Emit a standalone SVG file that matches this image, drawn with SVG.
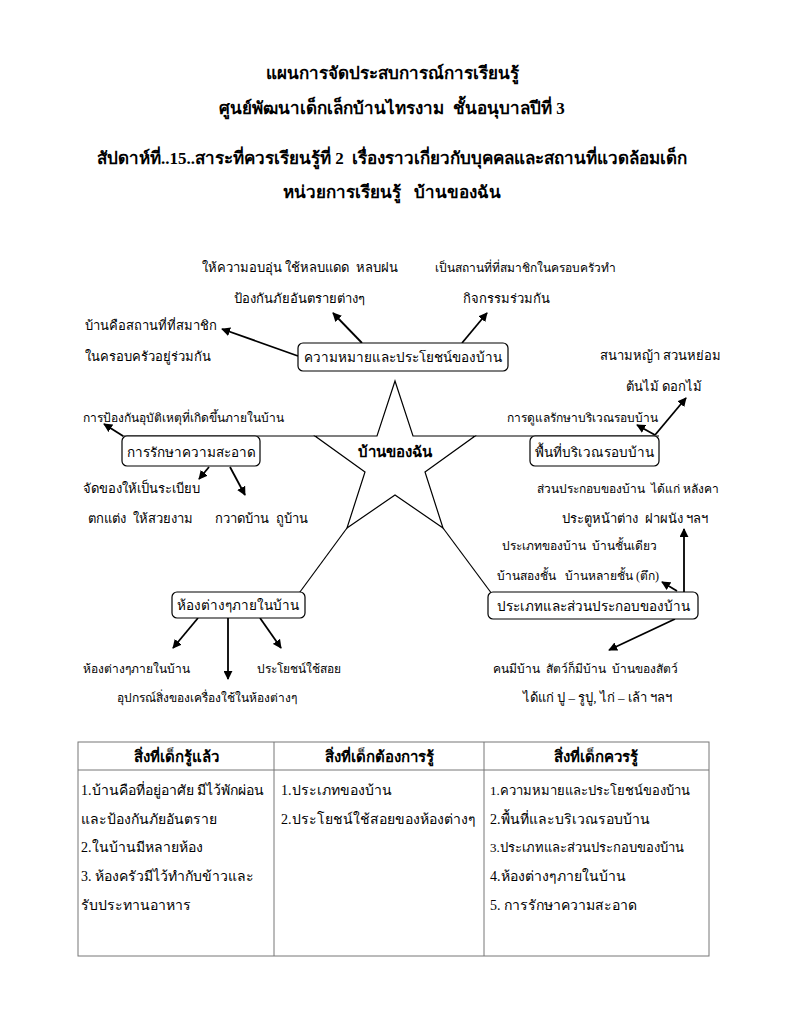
<svg xmlns="http://www.w3.org/2000/svg" width="785" height="1024" viewBox="0 0 785 1024">
<defs>
<marker id="ah" viewBox="0 0 10 10" refX="9" refY="5" markerWidth="9" markerHeight="9" markerUnits="userSpaceOnUse" orient="auto">
<path d="M0,0 L10,5 L0,10 z" fill="#000"/>
</marker>
<style>
text{font-family:"Liberation Serif","Noto Sans",serif;fill:#000;white-space:pre;}
.t{font-size:17px;font-weight:bold;text-anchor:middle;}
.s{font-size:13px;}
.s12{font-size:12px;}
.b{font-size:13.5px;text-anchor:middle;}
.h{font-size:15px;font-weight:bold;text-anchor:middle;}
.c{font-size:14px;}
.c13{font-size:13px;}
.box{fill:#fff;stroke:#000;stroke-width:1.2;}
.ln{stroke:#000;stroke-width:1.2;fill:none;}
.ar{stroke:#000;stroke-width:1.8;fill:none;marker-end:url(#ah);}
.tb{stroke:#777;stroke-width:1;fill:none;}
</style>
</defs>
<rect width="785" height="1024" fill="#fff"/>
<g id="title">
<text class="t" x="392" y="79">แผนการจัดประสบการณ์การเรียนรู้</text>
<text class="t" x="392" y="114">ศูนย์พัฒนาเด็กเล็กบ้านไทรงาม  ชั้นอนุบาลปีที่ 3</text>
<text class="t" x="392" y="164">สัปดาห์ที่..15..สาระที่ควรเรียนรู้ที่ 2  เรื่องราวเกี่ยวกับบุคคลและสถานที่แวดล้อมเด็ก</text>
<text class="t" x="392" y="198">หน่วยการเรียนรู้   บ้านของฉัน</text>
</g>
<g id="connectors">
<line class="ln" x1="122" y1="436" x2="315" y2="436"/>
<line class="ln" x1="475" y1="436" x2="659" y2="436"/>
<line class="ln" x1="347" y1="528" x2="297" y2="596"/>
<line class="ln" x1="443" y1="528" x2="492" y2="594"/>
<line class="ar" x1="298" y1="356" x2="222" y2="329"/>
<line class="ar" x1="362" y1="343" x2="333" y2="313"/>
<line class="ar" x1="462" y1="343" x2="487" y2="313"/>
<line class="ar" x1="655" y1="435" x2="686" y2="398"/>
<line class="ar" x1="655" y1="435" x2="637" y2="425"/>
<line class="ar" x1="123" y1="436" x2="104" y2="424"/>
<line class="ar" x1="209" y1="467" x2="199" y2="479"/>
<line class="ar" x1="230" y1="467" x2="245" y2="495"/>
<line class="ar" x1="198" y1="618" x2="173" y2="648"/>
<line class="ar" x1="228" y1="618" x2="228" y2="679"/>
<line class="ar" x1="260" y1="618" x2="281" y2="648"/>
<line class="ar" x1="684" y1="592" x2="684" y2="529"/>
<line class="ar" x1="677" y1="591" x2="662" y2="582"/>
<line class="ar" x1="675" y1="619" x2="609" y2="650"/>
</g>
<g id="star">
<polygon class="ln" points="395,381 377,436 315,436 365,472 347,528 395,495 443,528 425,472 475,436 413,436"/>
<text x="395" y="457" style="font-size:15px;font-weight:bold;text-anchor:middle">บ้านของฉัน</text>
</g>
<g id="meaning">
<rect class="box" x="298" y="343" width="210" height="28" rx="5"/>
<text class="b" x="403" y="362">ความหมายและประโยชน์ของบ้าน</text>
<text class="s" x="300" y="272" text-anchor="middle">ให้ความอบอุ่น ใช้หลบแดด  หลบฝน</text>
<text class="s" x="299" y="303" text-anchor="middle">ป้องกันภัยอันตรายต่างๆ</text>
<text class="s12" x="525" y="272" text-anchor="middle">เป็นสถานที่ที่สมาชิกในครอบครัวทำ</text>
<text class="s" x="506" y="303" text-anchor="middle">กิจกรรมร่วมกัน</text>
<text class="s" x="85" y="330">บ้านคือสถานที่ที่สมาชิก</text>
<text class="s" x="85" y="361">ในครอบครัวอยู่ร่วมกัน</text>
</g>
<g id="area">
<rect class="box" x="530" y="436" width="129" height="30" rx="5"/>
<text class="b" x="594" y="457">พื้นที่บริเวณรอบบ้าน</text>
<text class="s" x="721" y="360" text-anchor="end">สนามหญ้า สวนหย่อม</text>
<text class="s" x="702" y="391" text-anchor="end">ต้นไม้ ดอกไม้</text>
<text class="s12" x="507" y="422">การดูแลรักษาบริเวณรอบบ้าน</text>
</g>
<g id="clean">
<rect class="box" x="122" y="436" width="138" height="30" rx="5"/>
<text class="b" x="191" y="457">การรักษาความสะอาด</text>
<text class="s12" x="83" y="422">การป้องกันอุบัติเหตุที่เกิดขึ้นภายในบ้าน</text>
<text class="s" x="83" y="493">จัดของให้เป็นระเบียบ</text>
<text class="s" x="88" y="523">ตกแต่ง  ให้สวยงาม</text>
<text class="s" x="215" y="523">กวาดบ้าน  ถูบ้าน</text>
</g>
<g id="rooms">
<rect class="box" x="172" y="592" width="133" height="26" rx="5"/>
<text class="b" x="238" y="610">ห้องต่างๆภายในบ้าน</text>
<text class="s12" x="83" y="673">ห้องต่างๆภายในบ้าน</text>
<text class="s12" x="257" y="673">ประโยชน์ใช้สอย</text>
<text class="s12" x="117" y="702">อุปกรณ์สิ่งของเครื่องใช้ในห้องต่างๆ</text>
</g>
<g id="types">
<rect class="box" x="488" y="592" width="210" height="27" rx="5"/>
<text class="b" x="593" y="611">ประเภทและส่วนประกอบของบ้าน</text>
<text class="s12" x="537" y="493">ส่วนประกอบของบ้าน  ได้แก่ หลังคา</text>
<text class="s" x="562" y="523">ประตูหน้าต่าง  ฝาผนัง ฯลฯ</text>
<text class="s12" x="502" y="550">ประเภทของบ้าน  บ้านชั้นเดียว</text>
<text class="s12" x="497" y="580">บ้านสองชั้น   บ้านหลายชั้น (ตึก)</text>
<text class="s12" x="493" y="673">คนมีบ้าน  สัตว์ก็มีบ้าน  บ้านของสัตว์</text>
<text class="s" x="523" y="702">ได้แก่ ปู – รูปู, ไก่ – เล้า ฯลฯ</text>
</g>
<g id="table">
<rect class="tb" x="78" y="742" width="631" height="214"/>
<line class="tb" x1="78" y1="770" x2="709" y2="770"/>
<line class="tb" x1="274" y1="742" x2="274" y2="956"/>
<line class="tb" x1="484" y1="742" x2="484" y2="956"/>
<text class="h" x="176" y="762">สิ่งที่เด็กรู้แล้ว</text>
<text class="h" x="379" y="762">สิ่งที่เด็กต้องการรู้</text>
<text class="h" x="596" y="762">สิ่งที่เด็กควรรู้</text>
<text class="c" x="81" y="795">1.บ้านคือที่อยู่อาศัย มีไว้พักผ่อน</text>
<text class="c" x="81" y="824">และป้องกันภัยอันตราย</text>
<text class="c" x="81" y="852">2.ในบ้านมีหลายห้อง</text>
<text class="c" x="81" y="881">3. ห้องครัวมีไว้ทำกับข้าวและ</text>
<text class="c" x="81" y="910">รับประทานอาหาร</text>
<text class="c" x="281" y="795">1.ประเภทของบ้าน</text>
<text class="c" x="281" y="824">2.ประโยชน์ใช้สอยของห้องต่างๆ</text>
<text class="c13" x="490" y="795">1.ความหมายและประโยชน์ของบ้าน</text>
<text class="c" x="490" y="824">2.พื้นที่และบริเวณรอบบ้าน</text>
<text class="c13" x="490" y="852">3.ประเภทและส่วนประกอบของบ้าน</text>
<text class="c" x="490" y="881">4.ห้องต่างๆภายในบ้าน</text>
<text class="c" x="490" y="910">5. การรักษาความสะอาด</text>
</g>
</svg>
